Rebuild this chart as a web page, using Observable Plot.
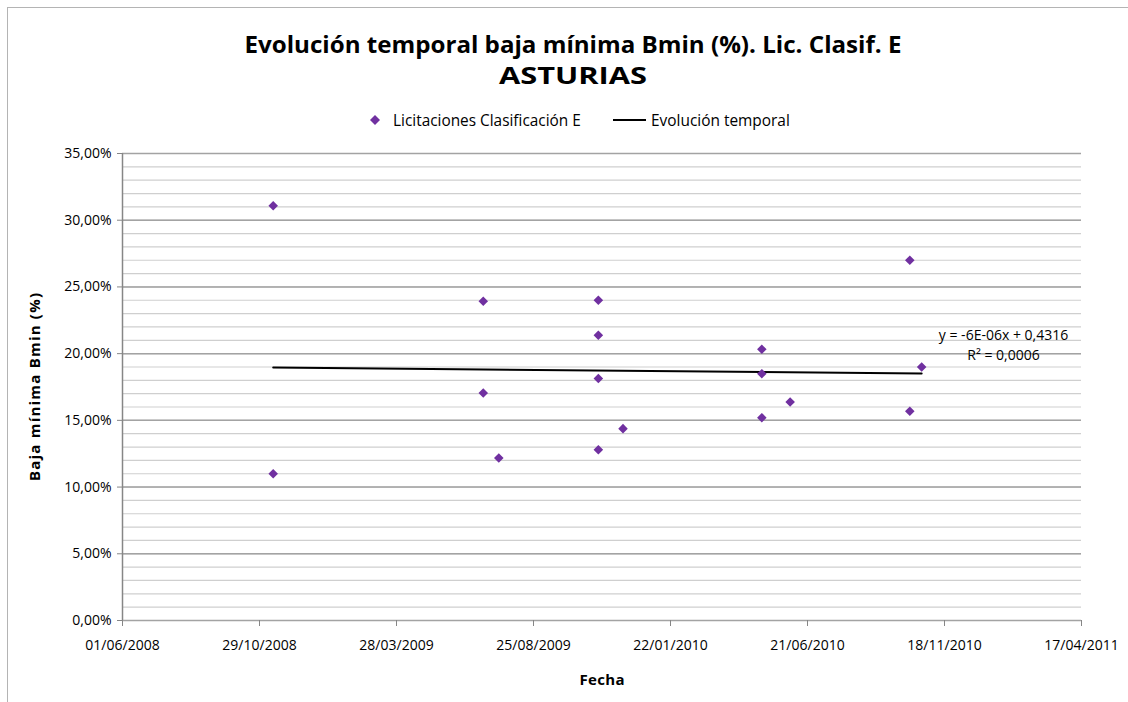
<!DOCTYPE html>
<html>
<head>
<meta charset="utf-8">
<script src="https://cdn.jsdelivr.net/npm/d3@7"></script>
<script src="https://cdn.jsdelivr.net/npm/@observablehq/plot@0.6"></script>
<style>
  html, body { margin: 0; padding: 0; background: #fff; }
  #wrap { position: relative; width: 1128px; height: 702px; overflow: hidden; font-family: "Open Sans", sans-serif; color: #000; }
  #border { position: absolute; left: 7px; top: 7px; width: 1200px; height: 800px; border-left: 1px solid #b4b4b4; border-top: 1px solid #b4b4b4; }
  .title { position: absolute; left: 0; width: 1146px; text-align: center; font-weight: bold; white-space: nowrap; font-size: 22.5px; line-height: 30px; height: 30px; transform-origin: 573px 50%; }
  #t1 { top: 30px; }
  #t2 { top: 61px; }
  #legend { position: absolute; top: 110px; left: 0; width: 1128px; height: 20px; font-size: 13px; white-space: nowrap; }
  #legend span { position: absolute; top: 0; }
  #chart { position: absolute; left: 0; top: 140px; }
</style>
</head>
<body>
<div id="wrap">
  <div id="border"></div>
  <div class="title" id="t1"><span>Evolución temporal baja mínima Bmin (%). Lic. Clasif. E</span></div>
  <div class="title" id="t2"><span>ASTURIAS</span></div>
  <div id="legend">
    <svg style="position:absolute;left:369px;top:4px" width="12" height="12"><path d="M6,1L11,6L6,11L1,6Z" fill="#7030A0"/></svg>
    <span id="lg1" style="left:393px">Licitaciones Clasificación E</span>
    <svg style="position:absolute;left:613px;top:8px" width="34" height="4"><line x1="0" y1="2" x2="33" y2="2" stroke="#000" stroke-width="2"/></svg>
    <span id="lg2" style="left:651px">Evolución temporal</span>
  </div>
  <div id="chart"></div>
</div>
<script>
// ---- data ----
const fechas = ["2008-11-13","2008-11-13","2009-07-01","2009-07-01","2009-07-18",
                "2009-11-04","2009-11-04","2009-11-04","2009-11-04","2009-12-01",
                "2010-05-02","2010-05-02","2010-05-02","2010-06-02",
                "2010-10-11","2010-10-24","2010-10-11"];
const bajas = [31.08, 11.0, 23.93, 17.05, 12.18,
               24.0, 21.38, 18.13, 12.8, 14.38,
               20.33, 18.5, 15.2, 16.38,
               27.0, 19.0, 15.68];
const xTickLabels = ["01/06/2008","29/10/2008","28/03/2009","25/08/2009","22/01/2010","21/06/2010","18/11/2010","17/04/2011"];
const yTicks = [0, 5, 10, 15, 20, 25, 30, 35];
const yMinor = d3.range(0, 36, 1);
const ecuacion = "y = -6E-06x + 0,4316";
const r2 = "R² = 0,0006";
const xLabel = "Fecha";
const yLabel = "Baja mínima Bmin (%)";

const parseDMY = d3.utcParse("%d/%m/%Y");
const parseISO = d3.utcParse("%Y-%m-%d");
const xTicks = xTickLabels.map(parseDMY);
const data = fechas.map((f, i) => ({fecha: parseISO(f), baja: bajas[i]}));

const fmtY = d => d.toFixed(2).replace(".", ",") + "%";
const fmtX = d3.utcFormat("%d/%m/%Y");

const chart = Plot.plot({
  width: 1128,
  height: 562,
  marginLeft: 122,
  marginRight: 47,
  marginTop: 13,
  marginBottom: 82,
  style: {fontFamily: "Open Sans, sans-serif", fontSize: "14px", color: "#000", background: "transparent"},
  x: {type: "utc", domain: [xTicks[0], xTicks[xTicks.length - 1]]},
  y: {domain: [0, 35]},
  marks: [
    Plot.ruleY(yMinor, {stroke: "#cfcfcf", strokeWidth: 1.2}),
    Plot.ruleY(yTicks, {stroke: "#a3a3a3", strokeWidth: 1.5}),
    Plot.ruleX([xTicks[0]], {stroke: "#868686", strokeWidth: 1.5}),
    Plot.axisY({ticks: yTicks, tickFormat: fmtY, tickSize: 5, tickPadding: 6, label: null, stroke: "#868686", fontSize: 14}),
    Plot.axisX({ticks: xTicks, tickFormat: fmtX, tickSize: 6, tickPadding: 14, label: null, stroke: "#868686", fontSize: 14}),
    Plot.linearRegressionY(data, {x: "fecha", y: "baja", stroke: "#000", strokeWidth: 2, ci: 0}),
    Plot.dot(data, {x: "fecha", y: "baja", symbol: "diamond2", r: 4.3, fill: "#7030A0", stroke: "none"}),
    Plot.text([ecuacion + "\n" + r2], {frameAnchor: "right", dx: -78, dy: -43, textAnchor: "middle", lineHeight: 1.4, fontSize: 14}),
    Plot.text([xLabel], {frameAnchor: "bottom", dy: 64, textAnchor: "middle", fontWeight: "bold", fontSize: 15}),
    Plot.text([yLabel], {frameAnchor: "left", dx: -87, rotate: -90, textAnchor: "middle", fontWeight: "bold", fontSize: 15})
  ]
});
document.getElementById("chart").appendChild(chart);

// stretch axis titles to the reference lengths
d3.select(chart).selectAll("text").each(function() {
  if (this.textContent === yLabel) { this.setAttribute("textLength", 188); this.setAttribute("lengthAdjust", "spacing"); }
  if (this.textContent === xLabel) { this.setAttribute("textLength", 45); this.setAttribute("lengthAdjust", "spacing"); }
});

// fit title / legend text widths to the reference
function widthOf(el) {
  const r = document.createRange(); r.selectNodeContents(el);
  return r.getBoundingClientRect().width;
}
function fitScale(id, target) {
  const el = document.getElementById(id);
  const w = widthOf(el);
  el.style.transform = `scaleX(${target / w})`;
}
function fitSize(id, target) {
  const el = document.getElementById(id);
  const w = widthOf(el);
  const fs = parseFloat(getComputedStyle(el).fontSize);
  el.style.fontSize = (fs * target / w) + "px";
}
fitScale("t1", 657);
fitScale("t2", 148);
fitSize("lg1", 188);
fitSize("lg2", 139);
</script>
</body>
</html>
